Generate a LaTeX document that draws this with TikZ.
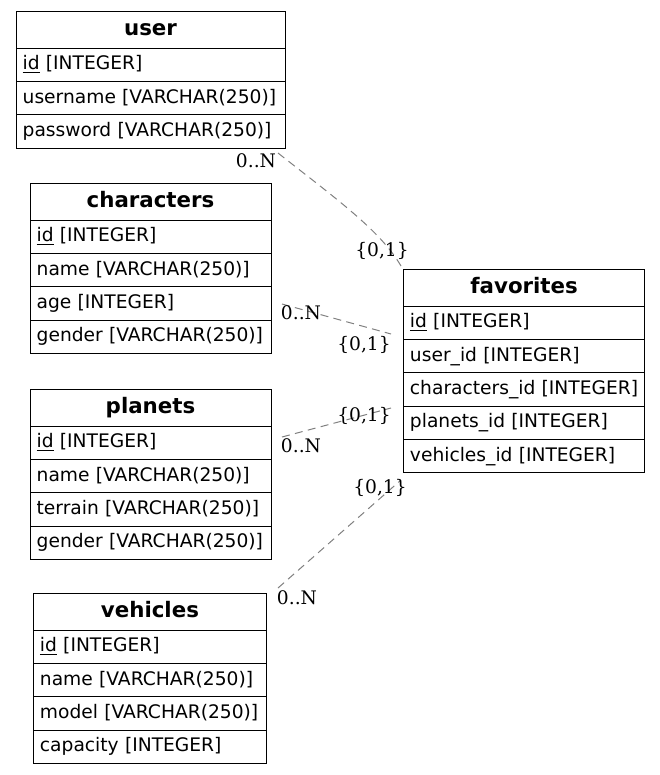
\documentclass[tikz,border=0pt]{standalone}
\usepackage{fontspec}
\setmainfont{DejaVu Sans}
\newfontfamily\lblfont{DejaVu Serif}
\begin{document}
\begin{tikzpicture}[x=0.75pt,y=-0.75pt,
  tbl/.style={draw=black, line width=0.75pt, inner xsep=5pt, inner ysep=0pt, outer sep=0pt, anchor=north west},
  hdr/.style={tbl, font=\bfseries\fontsize{16}{18}\selectfont, minimum height=27.75pt, minimum width=#1, text height=11.5pt, text depth=2.5pt, align=center},
  fld/.style={tbl, font=\fontsize{14}{16}\selectfont, minimum height=25pt, text width=#1, text height=10.5pt, text depth=3pt, align=left},
  rel/.style={draw=black!50, line width=0.75pt, dash pattern=on 6pt off 4pt},
  card/.style={font=\lblfont\fontsize{14}{16}\selectfont, inner sep=0pt}
]
\useasboundingbox (0,0) rectangle (660,775);

% user
\node[hdr=201.75pt] (user) at (16,11) {user};
\node[fld=191.75pt] (user1) at (user.south west) {\underline{id} [INTEGER]};
\node[fld=191.75pt] (user2) at (user1.south west) {username [VARCHAR(250)]};
\node[fld=191.75pt] (user3) at (user2.south west) {password [VARCHAR(250)]};

% characters
\node[hdr=180.75pt] (char) at (30,183) {characters};
\node[fld=170.75pt] (char1) at (char.south west) {\underline{id} [INTEGER]};
\node[fld=170.75pt] (char2) at (char1.south west) {name [VARCHAR(250)]};
\node[fld=170.75pt] (char3) at (char2.south west) {age [INTEGER]};
\node[fld=170.75pt] (char4) at (char3.south west) {gender [VARCHAR(250)]};

% planets
\node[hdr=180.75pt] (plan) at (30,389) {planets};
\node[fld=170.75pt] (plan1) at (plan.south west) {\underline{id} [INTEGER]};
\node[fld=170.75pt] (plan2) at (plan1.south west) {name [VARCHAR(250)]};
\node[fld=170.75pt] (plan3) at (plan2.south west) {terrain [VARCHAR(250)]};
\node[fld=170.75pt] (plan4) at (plan3.south west) {gender [VARCHAR(250)]};

% vehicles
\node[hdr=175pt] (veh) at (33.3,593.3) {vehicles};
\node[fld=165pt] (veh1) at (veh.south west) {\underline{id} [INTEGER]};
\node[fld=165pt] (veh2) at (veh1.south west) {name [VARCHAR(250)]};
\node[fld=165pt] (veh3) at (veh2.south west) {model [VARCHAR(250)]};
\node[fld=165pt] (veh4) at (veh3.south west) {capacity [INTEGER]};

% favorites
\node[hdr=181.25pt] (fav) at (403.3,269.3) {favorites};
\node[fld=171.25pt] (fav1) at (fav.south west) {\underline{id} [INTEGER]};
\node[fld=171.25pt] (fav2) at (fav1.south west) {user\_id [INTEGER]};
\node[fld=171.25pt] (fav3) at (fav2.south west) {characters\_id [INTEGER]};
\node[fld=171.25pt] (fav4) at (fav3.south west) {planets\_id [INTEGER]};
\node[fld=171.25pt] (fav5) at (fav4.south west) {vehicles\_id [INTEGER]};

% connector end points
\coordinate (u-s) at (278,153);
\coordinate (u-e) at (401,266);
\coordinate (c-s) at (282,304);
\coordinate (c-e) at (391,334);
\coordinate (p-s) at (282,437);
\coordinate (p-e) at (391,408);
\coordinate (v-s) at (278,588);
\coordinate (v-e) at (401,480);

\draw[rel] (u-s) .. controls (335,198) and (380,230) .. (u-e);
\draw[rel] (c-s) -- (c-e);
\draw[rel] (p-s) -- (p-e);
\draw[rel] (v-s) -- (v-e);

% cardinalities
\node[card] (l1a) at (256,161) {0..N};
\node[card] (l1b) at (382,251) {\{0,1\}};
\node[card] (l2a) at (301,313) {0..N};
\node[card] (l2b) at (364,345) {\{0,1\}};
\node[card] (l3a) at (301,446) {0..N};
\node[card] (l3b) at (364,416) {\{0,1\}};
\node[card] (l4a) at (297,598) {0..N};
\node[card] (l4b) at (380,488) {\{0,1\}};
\end{tikzpicture}
\end{document}
